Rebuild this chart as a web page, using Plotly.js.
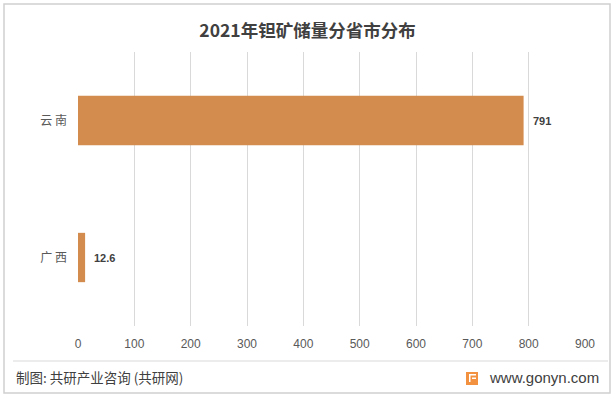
<!DOCTYPE html>
<html><head><meta charset="utf-8">
<script src="https://cdn.plot.ly/plotly-2.35.2.min.js"></script>
<style>html,body{margin:0;padding:0;background:#fff}#c{width:615px;height:397px}</style>
</head><body><div id="c"></div>
<script>
const provinces = ["广西", "云南"];
const provinceLabels = ["广 西", "云 南"];
const values = [12.6, 791];
const labels = ["12.6", "791"];
const xTicks = [0,100,200,300,400,500,600,700,800,900];

const trace = {
  type: "bar", orientation: "h",
  y: provinces, x: values,
  marker: {color: "#D38B4E"},
  width: 0.36,
  hoverinfo: "none"
};
const W = 507, H = 274;
const valueAnn = values.map((v, i) => ({
  x: v, y: provinces[i], xref: "x", yref: "y", xanchor: "left", yanchor: "middle", xshift: 7,
  showarrow: false, text: "<b>" + labels[i] + "</b>",
  font: {family: "Liberation Sans, Arial", size: 11, color: "#404040"}
}));
const layout = {
  width: 615, height: 397,
  margin: {l: 78, r: 30, t: 52, b: 71},
  paper_bgcolor: "#fff", plot_bgcolor: "#fff",
  font: {family: "Noto Sans CJK SC, sans-serif"},
  title: {text: "<b>2021年钽矿储量分省市分布</b>", x: 0.5, xref: "container", xanchor: "center", y: 366/397, yanchor: "middle",
    font: {size: 17.5, color: "#404040", family: "Noto Sans CJK SC"}},
  xaxis: {range: [0, 900], tickvals: xTicks, ticktext: xTicks.map(String), showgrid: true, gridcolor: "#d9d9d9", gridwidth: 1,
    zeroline: false, showline: false, ticks: "", ticklabelstandoff: 9,
    tickfont: {family: "Liberation Sans Narrow, Arial Narrow, sans-serif", size: 12, color: "#595959"}, fixedrange: true},
  yaxis: {showgrid: false, zeroline: false, showline: false, ticks: "", ticklabelstandoff: 10,
    tickvals: provinces, ticktext: provinceLabels,
    tickfont: {family: "Noto Sans CJK SC", size: 12, color: "#595959"}, fixedrange: true},
  showlegend: false,
  shapes: [
    {type: "line", xref: "paper", yref: "paper", x0: -65/W, x1: 530/W, y0: -35/H, y1: -35/H, line: {color: "#d9d9d9", width: 1}},
    {type: "rect", xref: "paper", yref: "paper", x0: -74/W, x1: 532/W, y0: -67/H, y1: 48/H + 1, line: {color: "#d0d0d0", width: 1.5}},
    {type: "rect", xref: "paper", yref: "paper", x0: (466-78)/W, x1: (478-78)/W, y0: -(385-326)/H, y1: -(372-326)/H, fillcolor: "#F2913F", line: {width: 0}},
    {type: "rect", xref: "paper", yref: "paper", x0: (469-78)/W, x1: (476-78)/W, y0: -(375.5-326)/H, y1: -(374-326)/H, fillcolor: "#ffffff", line: {width: 0}},
    {type: "rect", xref: "paper", yref: "paper", x0: (469-78)/W, x1: (470.5-78)/W, y0: -(382-326)/H, y1: -(374-326)/H, fillcolor: "#ffffff", line: {width: 0}},
    {type: "rect", xref: "paper", yref: "paper", x0: (472-78)/W, x1: (476-78)/W, y0: -(379-326)/H, y1: -(377.5-326)/H, fillcolor: "#ffffff", line: {width: 0}}
  ],
  annotations: valueAnn.concat([
    {xref: "paper", yref: "paper", x: -64/W, y: -(377-326)/H, xanchor: "left", yanchor: "middle", showarrow: false,
      text: "制图: 共研产业咨询 (共研网)", font: {family: "Noto Sans CJK SC", size: 13.5, color: "#404040"}},
    {xref: "paper", yref: "paper", x: (601-78)/W, y: -(377-326)/H, xanchor: "right", yanchor: "middle", showarrow: false,
      text: "www.gonyn.com", font: {family: "Liberation Sans, Arial", size: 15, color: "#404040"}}
  ])
};
Plotly.newPlot("c", [trace], layout, {staticPlot: true, displayModeBar: false});
</script></body></html>
